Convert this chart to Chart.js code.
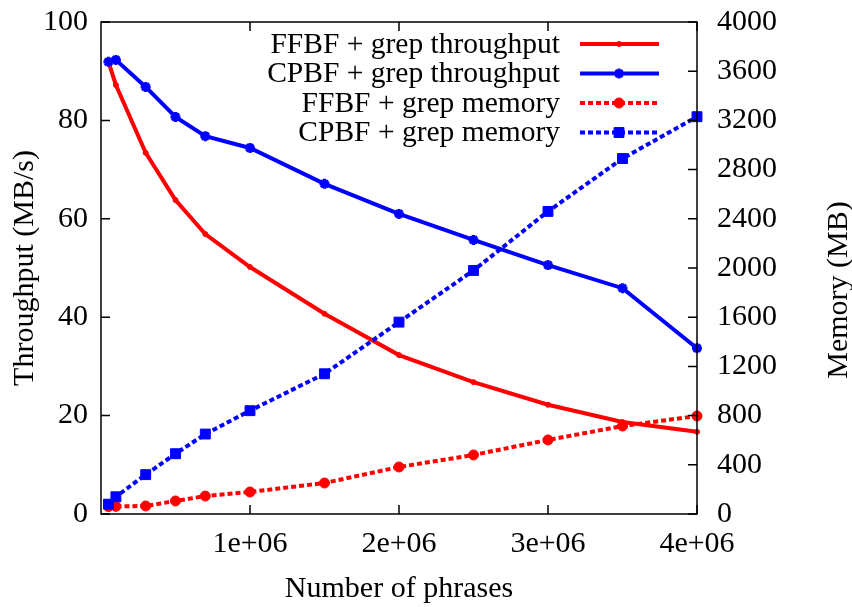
<!DOCTYPE html>
<html>
<head>
<meta charset="utf-8">
<script src="https://cdn.jsdelivr.net/npm/chart.js@4/dist/chart.umd.min.js"></script>
<style>
  html, body { margin: 0; padding: 0; background: #fff; }
  canvas { display: block; }
</style>
</head>
<body>
<canvas id="myChart" width="852" height="607"></canvas>
<script>
// values
const phrases = [50000, 100000, 300000, 500000, 700000, 1000000, 1500000, 2000000, 2500000, 3000000, 3500000, 4000000]
const ffbfThroughput = [91.9, 87.2, 73.4, 63.8, 56.9, 50.2, 40.7, 32.3, 26.8, 22.2, 18.7, 16.7]
const cpbfThroughput = [91.9, 92.3, 86.8, 80.7, 76.8, 74.4, 67.1, 61.0, 55.7, 50.6, 45.9, 33.7]
const ffbfMemory = [60, 62, 65, 106, 146, 179, 252, 382, 480, 602, 715, 797]
const cpbfMemory = [80, 140, 320, 490, 650, 840, 1140, 1560, 1980, 2460, 2890, 3230]
const seriesLabels = ["FFBF + grep throughput", "CPBF + grep throughput", "FFBF + grep memory", "CPBF + grep memory"]

const FONT = '"Liberation Serif", "Times New Roman", serif'
const RED = "#ff0000"
const BLUE = "#0000ff"

function points(values) {
    return phrases.map((p, i) => ({ x: p, y: values[i] }))
}

function sciLabel(v) {
    if (v === 0) return ""
    return (v / 1e6) + "e+06"
}

// gnuplot style: box frame, inward ticks, legend on the right with the sample after the text
const gnuplotLook = {
    id: 'gnuplotLook',
    afterDatasetsDraw(chart) {
        const ctx = chart.ctx
        const area = chart.chartArea
        const x = chart.scales.x
        const y = chart.scales.y
        const y2 = chart.scales.y2
        const tick = 9

        ctx.save()
        ctx.strokeStyle = "#000"
        ctx.lineWidth = 1.5
        ctx.setLineDash([])
        ctx.strokeRect(area.left, area.top, area.right - area.left, area.bottom - area.top)

        ctx.beginPath()
        x.ticks.forEach(t => {
            if (t.value === 0) return
            const px = x.getPixelForValue(t.value)
            ctx.moveTo(px, area.bottom); ctx.lineTo(px, area.bottom - tick)
            ctx.moveTo(px, area.top); ctx.lineTo(px, area.top + tick)
        })
        y.ticks.forEach(t => {
            const py = y.getPixelForValue(t.value)
            ctx.moveTo(area.left, py); ctx.lineTo(area.left + tick, py)
        })
        y2.ticks.forEach(t => {
            const py = y2.getPixelForValue(t.value)
            ctx.moveTo(area.right, py); ctx.lineTo(area.right - tick, py)
        })
        ctx.stroke()

        // right axis title reads bottom to top
        ctx.fillStyle = "#000"
        ctx.font = "30px " + FONT
        ctx.textAlign = "center"
        ctx.textBaseline = "middle"
        ctx.translate(839, 290)
        ctx.rotate(-Math.PI / 2)
        ctx.fillText("Memory (MB)", 0, 0)
        ctx.restore()

        // legend
        ctx.save()
        chart.data.datasets.forEach((ds, i) => {
            const ly = 44 + i * 29.5
            ctx.fillStyle = "#000"
            ctx.font = "29.5px " + FONT
            ctx.textAlign = "right"
            ctx.textBaseline = "middle"
            ctx.fillText(ds.label, 560, ly + 1)

            ctx.strokeStyle = ds.borderColor
            ctx.lineWidth = ds.borderWidth
            ctx.setLineDash(ds.borderDash || [])
            ctx.beginPath()
            ctx.moveTo(580, ly)
            ctx.lineTo(659, ly)
            ctx.stroke()

            ctx.setLineDash([])
            ctx.fillStyle = ds.pointBackgroundColor
            ctx.strokeStyle = ds.pointBorderColor
            ctx.lineWidth = ds.pointBorderWidth
            Chart.helpers.drawPoint(ctx, {
                pointStyle: ds.pointStyle,
                radius: ds.pointRadius,
                rotation: 0,
                borderWidth: ds.pointBorderWidth
            }, 619, ly)
        })
        ctx.restore()
    }
}

function fixVertical(width) {
    return s => {
        s.width = width
        s.paddingTop = 0
        s.paddingBottom = 0
    }
}

const ctx = document.getElementById("myChart").getContext("2d")

const chart = new Chart(ctx, {
    type: 'line',
    data: {
        datasets: [
            {
                label: seriesLabels[0],
                data: points(ffbfThroughput),
                yAxisID: 'y',
                borderColor: RED,
                borderWidth: 4,
                pointStyle: 'circle',
                pointRadius: 2.5,
                pointBackgroundColor: RED,
                pointBorderColor: RED,
                pointBorderWidth: 1,
                order: 4
            },
            {
                label: seriesLabels[1],
                data: points(cpbfThroughput),
                yAxisID: 'y',
                borderColor: BLUE,
                borderWidth: 4,
                pointStyle: 'star',
                pointRadius: 5,
                pointBackgroundColor: BLUE,
                pointBorderColor: BLUE,
                pointBorderWidth: 3,
                order: 3
            },
            {
                label: seriesLabels[2],
                data: points(ffbfMemory),
                yAxisID: 'y2',
                borderColor: RED,
                borderWidth: 4,
                borderDash: [5, 3],
                pointStyle: 'circle',
                pointRadius: 5,
                pointBackgroundColor: RED,
                pointBorderColor: RED,
                pointBorderWidth: 1,
                order: 2
            },
            {
                label: seriesLabels[3],
                data: points(cpbfMemory),
                yAxisID: 'y2',
                borderColor: BLUE,
                borderWidth: 4,
                borderDash: [5, 3],
                pointStyle: 'rect',
                pointRadius: 7,
                pointBackgroundColor: BLUE,
                pointBorderColor: BLUE,
                pointBorderWidth: 1,
                order: 1
            }
        ]
    },
    options: {
        responsive: false,
        animation: false,
        devicePixelRatio: 1,
        clip: false,
        layout: { padding: { top: 22, left: 0, right: 0, bottom: 0 } },
        plugins: {
            legend: { display: false },
            tooltip: { enabled: false }
        },
        elements: { line: { tension: 0 } },
        scales: {
            x: {
                type: 'linear',
                position: 'bottom',
                min: 0,
                max: 4000000,
                grid: { display: false, drawTicks: false },
                border: { display: false },
                ticks: {
                    stepSize: 1000000,
                    color: "#000",
                    font: { family: FONT, size: 30 },
                    padding: 12,
                    maxRotation: 0,
                    callback: v => sciLabel(v)
                },
                title: {
                    display: true,
                    text: "Number of phrases",
                    color: "#000",
                    font: { family: FONT, size: 30 },
                    padding: 0
                },
                afterFit: s => { s.height = 93 }
            },
            y: {
                position: 'left',
                min: 0,
                max: 100,
                grid: { display: false, drawTicks: false },
                border: { display: false },
                ticks: {
                    stepSize: 20,
                    color: "#000",
                    font: { family: FONT, size: 30 },
                    padding: 13
                },
                title: {
                    display: true,
                    text: "Throughput (MB/s)",
                    color: "#000",
                    font: { family: FONT, size: 30 },
                    padding: { top: 7, bottom: 0 }
                },
                afterFit: fixVertical(101)
            },
            y2: {
                position: 'right',
                min: 0,
                max: 4000,
                grid: { display: false, drawTicks: false },
                border: { display: false },
                ticks: {
                    stepSize: 400,
                    color: "#000",
                    font: { family: FONT, size: 30 },
                    padding: 20,
                    callback: v => String(v)
                },
                afterFit: fixVertical(155)
            }
        }
    },
    plugins: [gnuplotLook]
})
</script>
</body>
</html>
